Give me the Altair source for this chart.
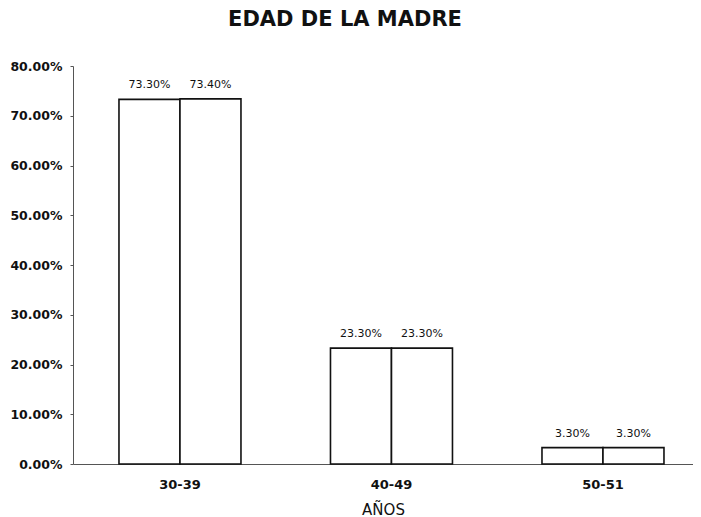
import altair as alt
import pandas as pd

categories = ["30-39", "40-49", "50-51"]
series_names = ["Serie 1", "Serie 2"]
serie1 = [0.733, 0.233, 0.033]
serie2 = [0.734, 0.233, 0.033]

rows = []
for c, a, b in zip(categories, serie1, serie2):
    rows.append({"edad": c, "serie": series_names[0], "valor": a})
    rows.append({"edad": c, "serie": series_names[1], "valor": b})
df = pd.DataFrame(rows)

FONT = "DejaVu Sans"

x = alt.X("edad:N", sort=categories,
          scale=alt.Scale(paddingInner=0.4232, paddingOuter=0.1773, align=0.613),
          axis=alt.Axis(title="AÑOS", labelAngle=0, ticks=False, domainColor="#555555",
                        labelFont=FONT, labelFontSize=13, labelFontWeight="bold",
                        labelColor="#111111", labelPadding=14,
                        titleFont=FONT, titleFontSize=15, titleFontWeight="normal",
                        titleColor="#111111", titlePadding=11))
xoff = alt.XOffset("serie:N", scale=alt.Scale(paddingInner=0, paddingOuter=0))
y = alt.Y("valor:Q", scale=alt.Scale(domain=[0, 0.8], nice=False),
          axis=alt.Axis(title=None, format=".2%", values=[i / 10 for i in range(9)],
                        grid=False, tickSize=3, tickColor="#555555", domainColor="#555555",
                        labelFont=FONT, labelFontSize=12.5, labelFontWeight="bold",
                        labelColor="#111111", labelPadding=8))

bars = alt.Chart(df).mark_bar(fill="white", stroke="#111111", strokeWidth=1.6).encode(
    x=x, xOffset=xoff, y=y)

labels = alt.Chart(df).mark_text(dy=-14, font=FONT, fontSize=11, color="#111111").encode(
    x=alt.X("edad:N", sort=categories), xOffset=alt.XOffset("serie:N"), y="valor:Q",
    text=alt.Text("valor:Q", format=".2%"))

chart = alt.layer(bars, labels).properties(
    width=620, height=398,
    title=alt.TitleParams("EDAD DE LA MADRE", font=FONT, fontSize=21, fontWeight="bold",
                          color="#111111", dx=-38, offset=30),
    autosize=alt.AutoSizeParams(type="none"),
    padding={"left": 65, "top": 58, "right": 0, "bottom": 54},
).configure_view(stroke=None)

chart.save("out.html", embed_options={"renderer": "svg", "actions": False})
